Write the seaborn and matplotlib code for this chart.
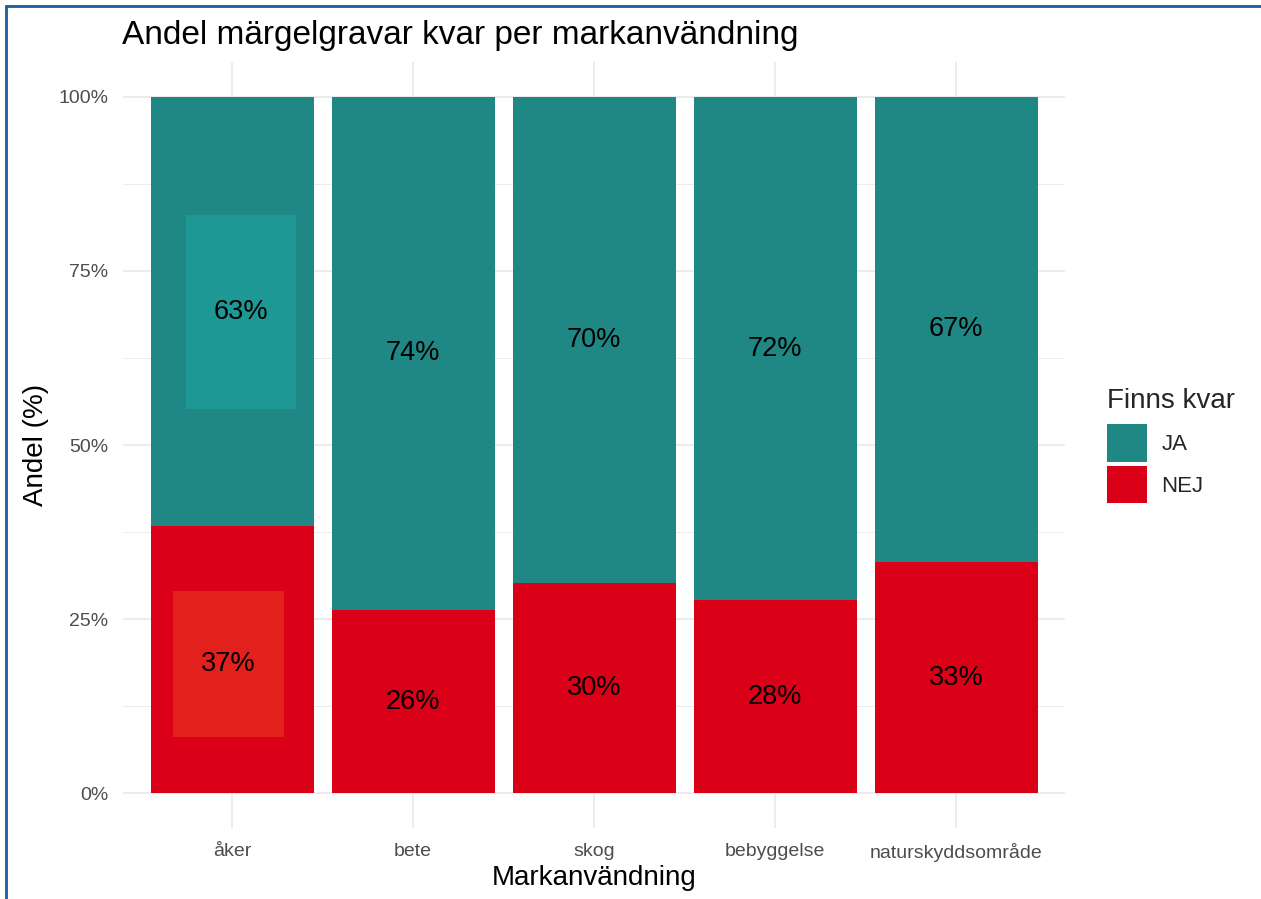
import numpy as np
import pandas as pd
import matplotlib
matplotlib.use("Agg")
import matplotlib.pyplot as plt
from matplotlib.patches import Patch, Rectangle
from matplotlib.lines import Line2D
import seaborn as sns

# Data
kategorier = ["åker", "bete", "skog", "bebyggelse", "naturskyddsområde"]
andel_nej = [38.3, 26.3, 30.2, 27.7, 33.2]
andel_ja = [61.7, 73.7, 69.8, 72.3, 66.8]
etikett_ja = ["63%", "74%", "70%", "72%", "67%"]
etikett_nej = ["37%", "26%", "30%", "28%", "33%"]
serier = ["JA", "NEJ"]

TEAL = "#1F8784"
RED = "#D90018"
TEAL_PATCH = "#1E9894"
RED_PATCH = "#E2201C"

df = pd.DataFrame({"mark": kategorier, "nej": andel_nej, "ja": andel_ja})
df["total"] = df["nej"] + df["ja"]

sns.set_style("white")
plt.rcParams["font.family"] = ["Liberation Sans", "DejaVu Sans"]

fig = plt.figure(figsize=(12.61, 8.99), dpi=100)
ax = fig.add_axes([123.4 / 1261, 1 - 828 / 899, (1065 - 123.4) / 1261, (828 - 62) / 899])

# stacked: JA on top of NEJ
sns.barplot(data=df, x="mark", y="total", order=kategorier, color=TEAL,
            saturation=1, width=0.9, linewidth=0, ax=ax, zorder=2)
sns.barplot(data=df, x="mark", y="nej", order=kategorier, color=RED,
            saturation=1, width=0.9, linewidth=0, ax=ax, zorder=2)

# labels in the middle of each segment
for i, row in df.iterrows():
    y_ja = row["nej"] + row["ja"] / 2
    y_nej = row["nej"] / 2
    x_ja, x_nej = i, i
    if i == 0:
        # the åker labels sit on lighter boxes, slightly off centre
        x_ja, x_nej = i + 0.05, i - 0.02
        y_nej -= 0.6
        ax.add_patch(Rectangle((x_ja - 0.305, y_ja - 13.95), 0.61, 27.9,
                               facecolor=TEAL_PATCH, edgecolor="none", zorder=3))
        ax.add_patch(Rectangle((x_nej - 0.305, y_nej - 10.45), 0.61, 20.9,
                               facecolor=RED_PATCH, edgecolor="none", zorder=3))
    ax.text(x_ja, y_ja, etikett_ja[i], ha="center", va="center",
            fontsize=19.5, color="black", zorder=4)
    ax.text(x_nej, y_nej, etikett_nej[i], ha="center", va="center",
            fontsize=19.5, color="black", zorder=4)

ax.set_xlim(-0.6, 4.6)
ax.set_ylim(-5, 105)
ax.set_yticks([0, 25, 50, 75, 100])
ax.set_yticklabels(["0%", "25%", "50%", "75%", "100%"])
ax.set_yticks([12.5, 37.5, 62.5, 87.5], minor=True)
ax.grid(axis="x", which="major", color="#EBEBEB", linewidth=1.3, zorder=0)
ax.grid(axis="y", which="major", color="#EBEBEB", linewidth=1.3, zorder=0)
ax.grid(axis="y", which="minor", color="#EBEBEB", linewidth=0.7, zorder=0)
ax.set_axisbelow(True)
for s in ax.spines.values():
    s.set_visible(False)
ax.tick_params(axis="both", which="both", length=0, labelsize=14, labelcolor="#4D4D4D")
ax.tick_params(axis="y", pad=11)
ax.tick_params(axis="x", pad=11)
ax.set_xlabel("")
ax.set_ylabel("")

fig.text(122 / 1261, 1 - 44 / 899, "Andel märgelgravar kvar per markanvändning",
         ha="left", va="baseline", fontsize=24, color="black")
fig.text(594 / 1261, 1 - 878 / 899, "Markanvändning", ha="center", va="center",
         fontsize=20, color="black")
fig.text(36 / 1261, 1 - 445 / 899, "Andel (%)", ha="center", va="center",
         rotation=90, fontsize=20, color="black")

handles = [Patch(facecolor=TEAL, edgecolor="none"), Patch(facecolor=RED, edgecolor="none")]
leg = fig.legend(handles, serier, title="Finns kvar", loc="upper left",
                 bbox_to_anchor=(1107 / 1261, 1 - 388 / 899), frameon=False,
                 fontsize=16, title_fontsize=20, handlelength=1.8, handleheight=2.2,
                 labelspacing=0.2, handletextpad=0.65, borderpad=0, borderaxespad=0,
                 alignment="left")
# a bit more room between the legend title and the keys
leg._legend_box.sep = 7.5

# blue frame (top and left edges of the screenshot)
fig.add_artist(Line2D([6 / 1261, 1], [1 - 6 / 899, 1 - 6 / 899], color="#1F5A9A",
                      linewidth=2, transform=fig.transFigure))
fig.add_artist(Line2D([6 / 1261, 6 / 1261], [0, 1 - 6 / 899], color="#1F5A9A",
                      linewidth=2, transform=fig.transFigure))

fig.savefig("out.png", dpi=100, facecolor="white")
